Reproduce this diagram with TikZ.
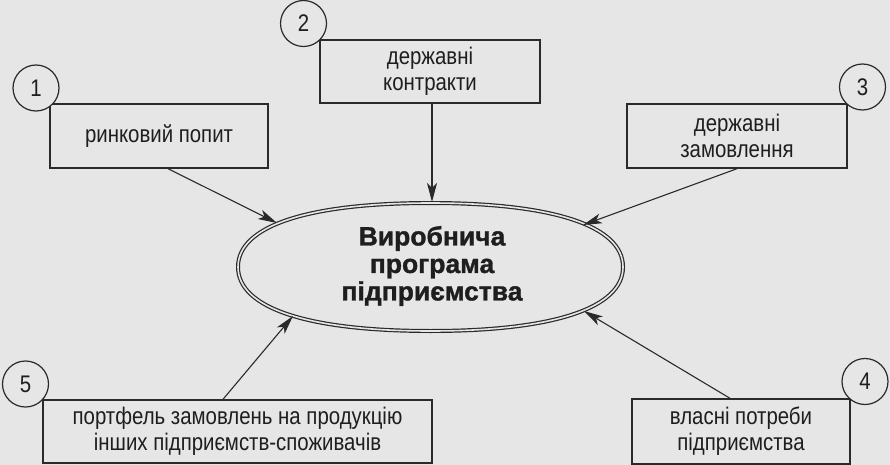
\documentclass[tikz,border=0pt]{standalone}
\usepackage{fontspec}
\setmainfont{Liberation Sans}
\newfontfamily\boxfont{Liberation Sans}[FakeStretch=0.85]
\newfontfamily\titlefont{Liberation Sans Bold}[FakeBold=1.2]
\usetikzlibrary{arrows.meta}
\definecolor{bg}{HTML}{E6E6E6}
\definecolor{linec}{HTML}{2A2A2A}
\definecolor{txt}{HTML}{1E1E1E}
\tikzset{
  box/.style={draw=linec, line width=1.4pt, inner sep=0pt, align=center,
    text=txt, font=\boxfont\fontsize{24}{26}\selectfont},
  num/.style={circle, draw=linec, fill=bg, line width=1.2pt, minimum size=46pt,
    inner sep=0pt, text=txt, font=\boxfont\fontsize{24}{26}\selectfont},
  arr/.style={draw=linec, line width=1.1pt, -{Stealth[length=19pt,width=10pt,inset=5pt]}},
  dbl/.style={draw=linec, line width=1.2pt, double=bg, double distance=1.6pt},
  title/.style={align=center, text=txt, font=\titlefont\fontsize{26.5}{27.5}\selectfont}
}
\begin{document}
\begin{tikzpicture}[x=1pt,y=-1pt]
\fill[bg] (0,0) rectangle (890,465);
\useasboundingbox (0,0) rectangle (890,465);

% boxes
\node[box, minimum width=218pt, minimum height=64pt] (b1) at (159,136) {ринковий попит};
\node[box, minimum width=220pt, minimum height=63pt] (b2) at (430,71.5) {державні\\контракти};
\node[box, minimum width=220pt, minimum height=64pt] (b3) at (737,136) {державні\\замовлення};
\node[box, minimum width=389pt, minimum height=63pt] (b5) at (237.5,431.5) {портфель замовлень на продукцію\\інших підприємств-споживачів};
\node[box, minimum width=218pt, minimum height=65pt] (b4) at (741,431.5) {власні потреби\\підприємства};

% central fat ellipse
\draw[dbl] (238,267) .. controls (238,226.04) and (307.3,203) .. (430.5,203)
  .. controls (553.7,203) and (623,226.04) .. (623,267)
  .. controls (623,307.96) and (553.7,331) .. (430.5,331)
  .. controls (307.3,331) and (238,307.96) .. cycle;
\node[title] (prog) at (432,266) {Виробнича\\програма\\підприємства};

% arrow tips on the ellipse border
\coordinate (t1) at (277,223);
\coordinate (t2) at (432,202);
\coordinate (t3) at (583,225);
\coordinate (t5) at (293,316);
\coordinate (t4) at (584,311);

\draw[arr] ([xshift=9pt]b1.south) -- (t1);
\draw[arr] ([xshift=2pt]b2.south) -- (t2);
\draw[arr] (b3.south) -- (t3);
\draw[arr] ([xshift=-14.5pt]b5.north) -- (t5);
\draw[arr] ([xshift=-11pt]b4.north) -- (t4);

% numbered circles
\node[num] (n1) at (36,88) {1};
\node[num] (n2) at (303.5,23.5) {2};
\node[num] (n3) at (862.5,87) {3};
\node[num] (n4) at (865,381.5) {4};
\node[num] (n5) at (25.5,384) {5};
\end{tikzpicture}
\end{document}
